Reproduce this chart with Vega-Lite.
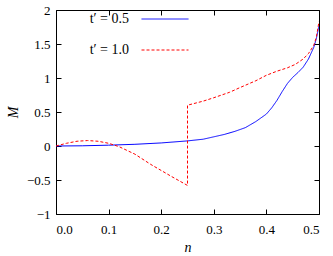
{
  "$schema": "https://vega.github.io/schema/vega-lite/v6.json",
  "width": 263,
  "height": 204,
  "autosize": {"type": "none"},
  "padding": {"left": 56, "top": 10, "right": 14, "bottom": 42},
  "config": {
    "view": {"stroke": "#000000", "strokeWidth": 1},
    "font": "Liberation Serif",
    "axis": {"grid": false, "domain": false, "tickColor": "#000", "tickSize": -5, "labelFont": "Liberation Serif", "labelFontSize": 13, "labelColor": "#000", "titleFont": "Liberation Serif", "titleFontSize": 14, "titleFontStyle": "italic", "titleFontWeight": "normal", "titleColor": "#000"}
  },
  "data": {"values": [
    {"s": "t′ = 0.5", "i": 0, "n": 0, "M": 0},
    {"s": "t′ = 0.5", "i": 1, "n": 0.05, "M": 0.003},
    {"s": "t′ = 0.5", "i": 2, "n": 0.1, "M": 0.012},
    {"s": "t′ = 0.5", "i": 3, "n": 0.15, "M": 0.025},
    {"s": "t′ = 0.5", "i": 4, "n": 0.2, "M": 0.045},
    {"s": "t′ = 0.5", "i": 5, "n": 0.25, "M": 0.075},
    {"s": "t′ = 0.5", "i": 6, "n": 0.28, "M": 0.1},
    {"s": "t′ = 0.5", "i": 7, "n": 0.3, "M": 0.135},
    {"s": "t′ = 0.5", "i": 8, "n": 0.32, "M": 0.17},
    {"s": "t′ = 0.5", "i": 9, "n": 0.34, "M": 0.215},
    {"s": "t′ = 0.5", "i": 10, "n": 0.36, "M": 0.27},
    {"s": "t′ = 0.5", "i": 11, "n": 0.38, "M": 0.36},
    {"s": "t′ = 0.5", "i": 12, "n": 0.4, "M": 0.47},
    {"s": "t′ = 0.5", "i": 13, "n": 0.41, "M": 0.56},
    {"s": "t′ = 0.5", "i": 14, "n": 0.42, "M": 0.67},
    {"s": "t′ = 0.5", "i": 15, "n": 0.43, "M": 0.8},
    {"s": "t′ = 0.5", "i": 16, "n": 0.44, "M": 0.92},
    {"s": "t′ = 0.5", "i": 17, "n": 0.45, "M": 1.01},
    {"s": "t′ = 0.5", "i": 18, "n": 0.46, "M": 1.08},
    {"s": "t′ = 0.5", "i": 19, "n": 0.47, "M": 1.16},
    {"s": "t′ = 0.5", "i": 20, "n": 0.48, "M": 1.28},
    {"s": "t′ = 0.5", "i": 21, "n": 0.49, "M": 1.45},
    {"s": "t′ = 0.5", "i": 22, "n": 0.495, "M": 1.58},
    {"s": "t′ = 0.5", "i": 23, "n": 0.5, "M": 1.77},
    {"s": "t′ = 1.0", "i": 0, "n": 0, "M": 0},
    {"s": "t′ = 1.0", "i": 1, "n": 0.02, "M": 0.04},
    {"s": "t′ = 1.0", "i": 2, "n": 0.04, "M": 0.07},
    {"s": "t′ = 1.0", "i": 3, "n": 0.06, "M": 0.08},
    {"s": "t′ = 1.0", "i": 4, "n": 0.08, "M": 0.07},
    {"s": "t′ = 1.0", "i": 5, "n": 0.1, "M": 0.04},
    {"s": "t′ = 1.0", "i": 6, "n": 0.12, "M": -0.01},
    {"s": "t′ = 1.0", "i": 7, "n": 0.15, "M": -0.12},
    {"s": "t′ = 1.0", "i": 8, "n": 0.18, "M": -0.27},
    {"s": "t′ = 1.0", "i": 9, "n": 0.2, "M": -0.36},
    {"s": "t′ = 1.0", "i": 10, "n": 0.22, "M": -0.45},
    {"s": "t′ = 1.0", "i": 11, "n": 0.25, "M": -0.58},
    {"s": "t′ = 1.0", "i": 12, "n": 0.25, "M": 0.6},
    {"s": "t′ = 1.0", "i": 13, "n": 0.28, "M": 0.66},
    {"s": "t′ = 1.0", "i": 14, "n": 0.3, "M": 0.71},
    {"s": "t′ = 1.0", "i": 15, "n": 0.33, "M": 0.79},
    {"s": "t′ = 1.0", "i": 16, "n": 0.35, "M": 0.86},
    {"s": "t′ = 1.0", "i": 17, "n": 0.38, "M": 0.96},
    {"s": "t′ = 1.0", "i": 18, "n": 0.4, "M": 1.04},
    {"s": "t′ = 1.0", "i": 19, "n": 0.42, "M": 1.1},
    {"s": "t′ = 1.0", "i": 20, "n": 0.44, "M": 1.15},
    {"s": "t′ = 1.0", "i": 21, "n": 0.455, "M": 1.2},
    {"s": "t′ = 1.0", "i": 22, "n": 0.47, "M": 1.28},
    {"s": "t′ = 1.0", "i": 23, "n": 0.48, "M": 1.36},
    {"s": "t′ = 1.0", "i": 24, "n": 0.49, "M": 1.48},
    {"s": "t′ = 1.0", "i": 25, "n": 0.495, "M": 1.6},
    {"s": "t′ = 1.0", "i": 26, "n": 0.5, "M": 1.83}
  ]},
  "layer": [
    {
      "mark": {"type": "line", "strokeWidth": 1, "clip": true},
      "encoding": {
        "x": {"field": "n", "type": "quantitative", "scale": {"domain": [0, 0.5], "nice": false}, "axis": {"orient": "bottom", "title": "n", "values": [0, 0.1, 0.2, 0.3, 0.4, 0.5], "labelPadding": 14, "titlePadding": 4}},
        "y": {"field": "M", "type": "quantitative", "scale": {"domain": [-1, 2], "nice": false, "zero": false}, "axis": {"orient": "left", "title": "M", "values": [-1, -0.5, 0, 0.5, 1, 1.5, 2], "labelPadding": 11, "titlePadding": 6, "format": "~g"}},
        "order": {"field": "i", "type": "quantitative"},
        "color": {"field": "s", "type": "nominal", "scale": {"domain": ["t′ = 0.5", "t′ = 1.0"], "range": ["#0000ff", "#ff0000"]},
          "legend": {"orient": "none", "legendX": 85, "legendY": -15, "title": null, "padding": 0, "symbolType": "stroke", "symbolSize": 2209, "symbolStrokeWidth": 1, "labelAlign": "right", "labelOffset": -60, "labelFont": "Liberation Serif", "labelFontSize": 14, "labelColor": "#000", "rowPadding": -12}},
        "strokeDash": {"field": "s", "type": "nominal", "scale": {"domain": ["t′ = 0.5", "t′ = 1.0"], "range": [[1, 0], [3, 2]]}, "legend": null}
      }
    },
    {
      "mark": {"type": "point", "opacity": 0},
      "encoding": {
        "x": {"field": "n", "type": "quantitative", "axis": {"orient": "top", "title": null, "labels": false, "values": [0, 0.1, 0.2, 0.3, 0.4, 0.5]}},
        "y": {"field": "M", "type": "quantitative", "axis": {"orient": "right", "title": null, "labels": false, "values": [-1, -0.5, 0, 0.5, 1, 1.5, 2]}}
      }
    }
  ],
  "resolve": {"axis": {"x": "independent", "y": "independent"}}
}
